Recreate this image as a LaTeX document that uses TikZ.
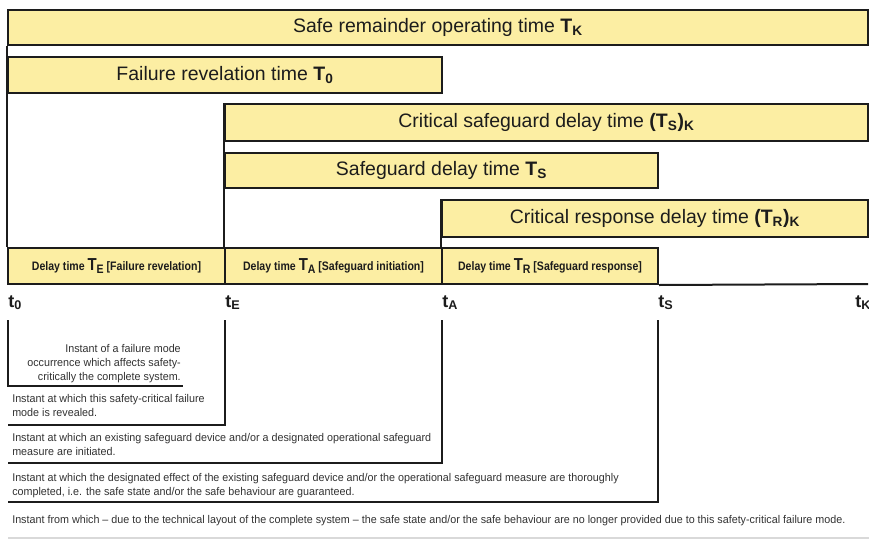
\documentclass[tikz,border=0pt]{standalone}
\usepackage{fontspec}
\setmainfont{Liberation Sans}
\newfontfamily\narrowfont[FakeStretch=0.86]{Liberation Sans}
\newfontfamily\notefont[FakeStretch=0.96]{Liberation Sans}
\usetikzlibrary{fit,positioning}

\definecolor{barfill}{RGB}{252,238,163}
\definecolor{linecol}{RGB}{28,28,28}
\definecolor{notecol}{RGB}{50,50,50}

\tikzset{
  bartext/.style={inner sep=0pt, text=linecol, font=\fontsize{14.6}{16}\selectfont},
  celltext/.style={inner sep=0pt, text=linecol, font=\narrowfont\bfseries\fontsize{9.2}{10}\selectfont},
  bar/.style={draw=linecol, fill=barfill, line width=1.5pt, inner sep=0pt,
              label={[bartext]center:{#1}}},
  cell/.style={draw=linecol, fill=barfill, line width=1.5pt, inner sep=0pt,
              label={[celltext]center:{#1}}},
  tick/.style={anchor=base west, inner sep=0pt, text=linecol,
               font=\bfseries\fontsize{13.5}{16}\selectfont},
  note/.style={inner sep=0pt, text=notecol,
               font=\notefont\fontsize{8.4}{10.6}\selectfont},
  rule/.style={draw=linecol, line width=1.5pt},
}
\newcommand{\bT}[1]{\textbf{T\textsubscript{#1}}}
\newcommand{\dT}[1]{{\fontsize{13}{12}\selectfont T}\raisebox{-1.8pt}{#1}}

\begin{document}
\begin{tikzpicture}[x=0.75pt, y=-0.75pt]
    \useasboundingbox (0,0) rectangle (869,540);
    % ---- bars
    \node[bar={Safe remainder operating time \bT{K}}, fit={(8,10) (868,45)}] (TK) {};
    \node[bar={Failure revelation time \bT{0}}, fit={(8,57) (442,93)}] (T0) {};
    \node[bar={Critical safeguard delay time \textbf{(T\textsubscript{S})\textsubscript{K}}},
          fit={(225,104) (868,141)}] (TSK) {};
    \node[bar={Safeguard delay time \bT{S}}, fit={(225,153) (658,188)}] (TS) {};
    \node[bar={Critical response delay time \textbf{(T\textsubscript{R})\textsubscript{K}}},
          fit={(442,200) (868,237)}] (TRK) {};
    % ---- delay row
    \node[cell={Delay time \dT{E} [Failure revelation]}, fit={(8,248) (225,284)}] (DE) {};
    \node[cell={Delay time \dT{A} [Safeguard initiation]}, fit={(225,248) (442,284)}] (DA) {};
    \node[cell={Delay time \dT{R} [Safeguard response]}, fit={(442,248) (658,284)}] (DR) {};
    \coordinate (bK) at (868,284);
    \draw[rule] (TK.south west) -- (DE.north west);
    \draw[rule] (TSK.north west) -- (DA.north west);
    \draw[rule] (TRK.north west) -- (DR.north west);
    \draw[rule] (DR.south east) -- (bK);
    % ---- instants
    \node[tick] (t0) at (8,307)   {t\textsubscript{0}};
    \node[tick] (tE) at (225,307) {t\textsubscript{E}};
    \node[tick] (tA) at (442,307) {t\textsubscript{A}};
    \node[tick] (tS) at (658,307) {t\textsubscript{S}};
    \node[tick] (tK) at (855,307) {t\textsubscript{K}};
    % ---- brackets
    \coordinate (m0) at (8,320);   \coordinate (k0) at (183,386);
    \coordinate (mE) at (225,320); \coordinate (kE) at (8,425);
    \coordinate (mA) at (442,320); \coordinate (kA) at (8,463);
    \coordinate (mS) at (658,320); \coordinate (kS) at (8,502);
    \coordinate (mK) at (8,538);   \coordinate (kK) at (869,538);
    \foreach \a/\b in {m0/k0,mE/kE,mA/kA,mS/kS}
      { \draw[rule] (\a) |- (\b); }
    \draw[gray!30, line width=0.8pt] (mK) -- (kK);
    % ---- notes
    \node[note, align=right, anchor=north east] (n0) at (181,344)
      {Instant of a failure mode\\occurrence which affects safety-\\critically the complete system.};
    \node[note, align=left, anchor=north west] (nE) at (12,394)
      {Instant at which this safety-critical failure\\mode is revealed.};
    \node[note, align=left, anchor=north west] (nA) at (12,433)
      {Instant at which an existing safeguard device and/or a designated operational safeguard\\measure are initiated.};
    \node[note, align=left, anchor=north west] (nS) at (12,473)
      {Instant at which the designated effect of the existing safeguard device and/or the operational safeguard measure are thoroughly\\completed, i.e. the safe state and/or the safe behaviour are guaranteed.};
    \node[note, align=left, anchor=north west] (nK) at (12,515)
      {Instant from which \textendash{} due to the technical layout of the complete system \textendash{} the safe state and/or the safe behaviour are no longer provided due to this safety-critical failure mode.};
\end{tikzpicture}
\end{document}
